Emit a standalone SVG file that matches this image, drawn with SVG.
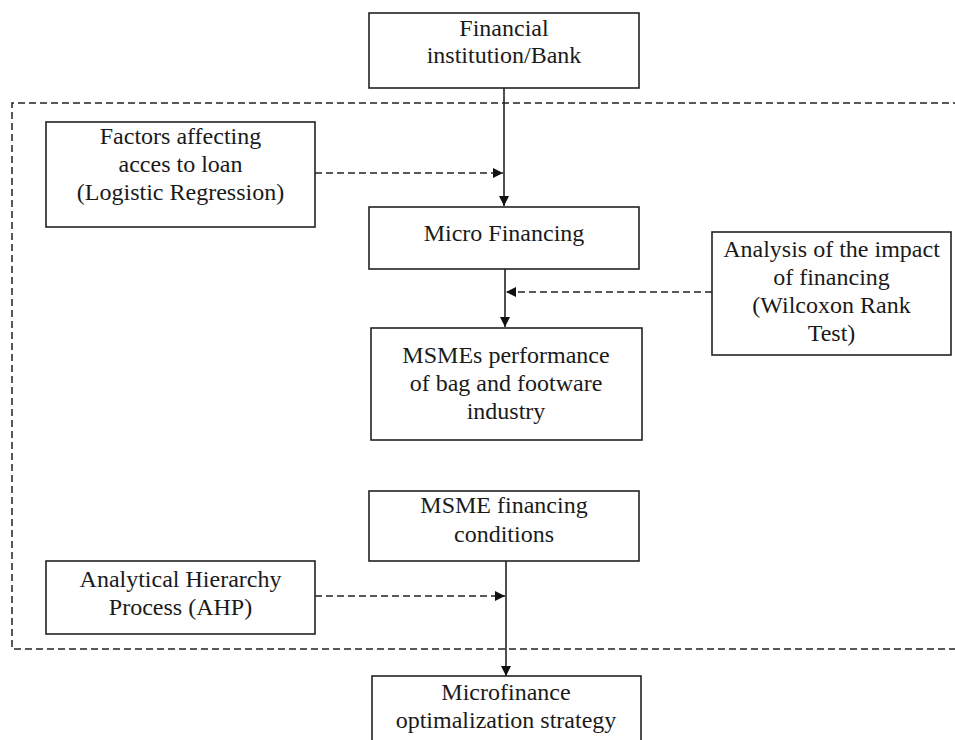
<svg xmlns="http://www.w3.org/2000/svg" width="955" height="740" viewBox="0 0 955 740">
<style>
  .box { fill: #fff; stroke: #222; stroke-width: 1.6; }
  .t { font-family: "Liberation Serif", "Times New Roman", serif; font-size: 24px; fill: #1a1a1a; text-anchor: middle; }
  .solid { stroke: #222; stroke-width: 1.6; fill: none; }
  .dash { stroke: #222; stroke-width: 1.5; fill: none; stroke-dasharray: 7 4; }
</style>
<defs>
  <marker id="ah" viewBox="0 0 10 10" refX="10" refY="5" markerWidth="10" markerHeight="10" markerUnits="userSpaceOnUse" orient="auto">
    <path d="M0,0 L10,5 L0,10 Z" fill="#111"/>
  </marker>
</defs>
<rect width="955" height="740" fill="#fff"/>
<g id="boundary">
  <path class="dash" d="M960,103 H12 V649 H960"/>
</g>
<g id="connectors">
  <line class="solid" x1="504" y1="88" x2="504" y2="206" marker-end="url(#ah)"/>
  <line class="dash" x1="315" y1="173" x2="503" y2="173" marker-end="url(#ah)"/>
  <line class="solid" x1="505" y1="269" x2="505" y2="327" marker-end="url(#ah)"/>
  <line class="dash" x1="712" y1="292" x2="506" y2="292" marker-end="url(#ah)"/>
  <line class="solid" x1="506" y1="561" x2="506" y2="676" marker-end="url(#ah)"/>
  <line class="dash" x1="315" y1="596" x2="505" y2="596" marker-end="url(#ah)"/>
</g>
<g id="bank">
  <rect class="box" x="369" y="13" width="270" height="75"/>
  <text class="t" x="504" y="36">Financial</text>
  <text class="t" x="504" y="63">institution/Bank</text>
</g>
<g id="factors">
  <rect class="box" x="46" y="122" width="269" height="105"/>
  <text class="t" x="180.5" y="144">Factors affecting</text>
  <text class="t" x="180.5" y="172">acces to loan</text>
  <text class="t" x="180.5" y="200">(Logistic Regression)</text>
</g>
<g id="microfinancing">
  <rect class="box" x="369" y="207" width="270" height="62"/>
  <text class="t" x="504" y="241">Micro Financing</text>
</g>
<g id="analysis">
  <rect class="box" x="712" y="232" width="239" height="123"/>
  <text class="t" x="831.5" y="257">Analysis of the impact</text>
  <text class="t" x="831.5" y="285">of financing</text>
  <text class="t" x="831.5" y="313">(Wilcoxon Rank</text>
  <text class="t" x="831.5" y="341">Test)</text>
</g>
<g id="msmes">
  <rect class="box" x="371" y="328" width="271" height="112"/>
  <text class="t" x="506" y="363">MSMEs performance</text>
  <text class="t" x="506" y="391">of bag and footware</text>
  <text class="t" x="506" y="419">industry</text>
</g>
<g id="conditions">
  <rect class="box" x="369" y="491" width="270" height="70"/>
  <text class="t" x="504" y="513">MSME financing</text>
  <text class="t" x="504" y="542">conditions</text>
</g>
<g id="ahp">
  <rect class="box" x="46" y="561" width="269" height="73"/>
  <text class="t" x="180.5" y="587">Analytical Hierarchy</text>
  <text class="t" x="180.5" y="615">Process (AHP)</text>
</g>
<g id="strategy">
  <rect class="box" x="372" y="676" width="269" height="80"/>
  <text class="t" x="506" y="700">Microfinance</text>
  <text class="t" x="506" y="728">optimalization strategy</text>
</g>
</svg>
